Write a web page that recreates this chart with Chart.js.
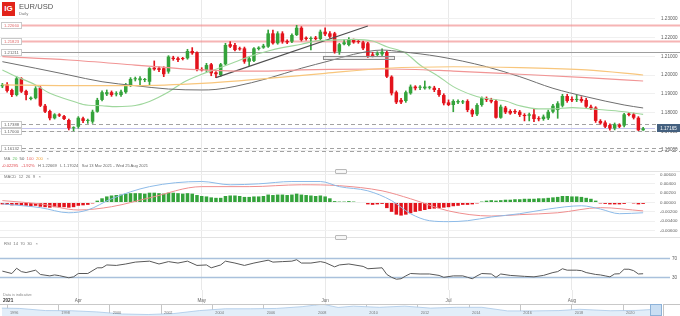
<!DOCTYPE html>
<html>
<head>
<meta charset="utf-8">
<script src="https://cdn.jsdelivr.net/npm/chart.js@4.4.1/dist/chart.umd.min.js"></script>
<style>
html,body{margin:0;padding:0;background:#fff;}
#wrap{position:relative;width:680px;height:316px;overflow:hidden;font-family:"Liberation Sans",Arial,sans-serif;background:#fff;}
#wrap canvas{position:absolute;left:0;}
.t{position:absolute;white-space:nowrap;line-height:1;}
.sep{position:absolute;left:0;width:680px;height:1px;background:#e2e2e2;}
.hdl{position:absolute;left:335px;width:10px;height:3px;border:1px solid #b9b9b9;border-radius:1px;background:#f6f6f6;}
</style>
</head>
<body>
<div id="wrap">
  <canvas id="cMain" width="680" height="171" style="top:0px"></canvas>
  <canvas id="cMacd" width="680" height="66" style="top:171px"></canvas>
  <canvas id="cRsi" width="680" height="68" style="top:237px"></canvas>
  <canvas id="cNav" width="650" height="12" style="top:304px"></canvas>

  <div class="sep" style="top:171px"></div>
  <div class="sep" style="top:237px"></div>
  <div class="hdl" style="top:169px"></div>
  <div class="hdl" style="top:235px"></div>

  <div class="t" style="left:2px;top:2px;width:13px;height:14px;background:#e2231a;color:#fff;font-weight:bold;font-size:8px;line-height:14px;text-align:center;">IG</div>
  <div class="t" style="left:19px;top:3px;font-size:7.6px;color:#555;">EUR/USD</div>
  <div class="t" style="left:19px;top:12px;font-size:4.2px;color:#777;">Daily</div>

  <div class="t" style="left:4px;top:157px;font-size:4.2px;color:#777;">MA&nbsp;&nbsp;<span style="color:#5fbf5f">20</span>&nbsp;&nbsp;<span style="color:#555">50</span>&nbsp;&nbsp;<span style="color:#e76b6b">100</span>&nbsp;&nbsp;<span style="color:#f0a640">200</span>&nbsp;&nbsp;&nbsp;<span style="color:#999">×</span></div>
  <div class="t" style="left:2px;top:164px;font-size:4.1px;color:#666;"><span style="color:#e0474c">-0.02295</span>&nbsp;&nbsp;&nbsp;<span style="color:#e0474c">-1.92%</span>&nbsp;&nbsp;&nbsp;H 1.22669&nbsp;&nbsp;&nbsp;L 1.17024&nbsp;&nbsp;&nbsp;Sat 13 Mar 2021 - Wed 25 Aug 2021</div>
  <div class="t" style="left:4px;top:175px;font-size:4.2px;color:#777;">MACD&nbsp;&nbsp;12&nbsp;&nbsp;26&nbsp;&nbsp;9&nbsp;&nbsp;&nbsp;×</div>
  <div class="t" style="left:4px;top:242px;font-size:4.2px;color:#777;">RSI&nbsp;&nbsp;14&nbsp;&nbsp;70&nbsp;&nbsp;30&nbsp;&nbsp;&nbsp;×</div>

  <div class="t" style="left:650px;top:304px;width:10px;height:10px;background:#c9def3;border:1px solid #8db2d8;"></div>
  <div class="t" style="left:663px;top:304px;width:16px;height:11px;border:1px solid #c4c4c4;background:#fff;"></div>
</div>
<script>
// ---------------- DATA ----------------
const startDate = '2021-03-14';   // first candle (IG daily FX incl. Sunday candles)
const slotCount = 138;            // candles + empty slots at right
const monthNames = ['Jan','Feb','Mar','Apr','May','Jun','Jul','Aug','Sep','Oct','Nov','Dec'];

const opens  = [1.1941,1.1951,1.1921,1.1894,1.1983,1.1916,1.1873,1.1877,1.1933,1.1837,
1.1809,1.1770,1.1791,1.1782,1.1761,1.1717,1.1725,1.1770,1.1756,1.1752,
1.1805,1.1868,1.1898,1.1909,1.1898,1.1894,1.1909,1.1944,1.1978,1.1973,
1.1974,1.1965,1.2040,1.2037,1.2037,1.2019,1.2093,1.2090,1.2090,1.2090,
1.2129,1.2122,1.2033,1.2028,1.2058,1.2015,1.2001,1.2058,1.2165,1.2161,
1.2143,1.2143,1.2072,1.2076,1.2140,1.2147,1.2152,1.2223,1.2170,1.2223,
1.2182,1.2179,1.2214,1.2253,1.2200,1.2193,1.2200,1.2193,1.2232,1.2223,
1.2223,1.2125,1.2165,1.2161,1.2188,1.2179,1.2175,1.2170,1.2111,1.2108,
1.2111,1.2122,1.1992,1.1909,1.1868,1.1862,1.1903,1.1939,1.1933,1.1930,
1.1933,1.1933,1.1921,1.1894,1.1855,1.1841,1.1855,1.1855,1.1862,1.1814,
1.1791,1.1841,1.1877,1.1868,1.1862,1.1773,1.1827,1.1809,1.1809,1.1805,
1.1788,1.1784,1.1791,1.1770,1.1766,1.1770,1.1805,1.1814,1.1837,1.1889,
1.1873,1.1868,1.1873,1.1868,1.1832,1.1827,1.1756,1.1748,1.1734,1.1716,
1.1734,1.1731,1.1795,1.1791,1.1773,1.1706];
const highs  = [1.1956,1.1960,1.1926,1.1992,1.1987,1.1921,1.1885,1.1939,1.1939,1.1844,
1.1814,1.1795,1.1795,1.1786,1.1766,1.1725,1.1779,1.1777,1.1766,1.1814,
1.1877,1.1916,1.1921,1.1916,1.1912,1.1921,1.1956,1.1987,1.1990,1.1992,
1.1983,1.2040,1.2076,1.2045,1.2045,1.2104,1.2101,1.2097,1.2095,1.2138,
1.2147,1.2125,1.2040,1.2063,1.2063,1.2019,1.2063,1.2170,1.2179,1.2170,
1.2150,1.2150,1.2099,1.2147,1.2152,1.2165,1.2241,1.2241,1.2232,1.2232,
1.2189,1.2221,1.2266,1.2259,1.2205,1.2204,1.2207,1.2241,1.2253,1.2232,
1.2229,1.2170,1.2188,1.2200,1.2193,1.2188,1.2182,1.2175,1.2122,1.2125,
1.2140,1.2129,1.1997,1.1916,1.1877,1.1916,1.1948,1.1944,1.1944,1.1969,
1.1941,1.1941,1.1930,1.1901,1.1868,1.1869,1.1868,1.1866,1.1869,1.1820,
1.1848,1.1884,1.1884,1.1877,1.1869,1.1841,1.1834,1.1816,1.1816,1.1812,
1.1795,1.1798,1.1823,1.1779,1.1788,1.1814,1.1844,1.1859,1.1898,1.1898,
1.1884,1.1894,1.1885,1.1877,1.1841,1.1832,1.1763,1.1756,1.1741,1.1745,
1.1741,1.1796,1.1802,1.1798,1.1779,1.1722];
const lows   = [1.1933,1.1909,1.1885,1.1889,1.1907,1.1868,1.1868,1.1873,1.1832,1.1800,
1.1761,1.1766,1.1779,1.1762,1.1708,1.1703,1.1717,1.1746,1.1743,1.1743,
1.1802,1.1862,1.1891,1.1887,1.1889,1.1887,1.1903,1.1939,1.1969,1.1944,
1.1965,1.1944,1.2026,1.2019,1.1992,1.2010,1.2079,1.2072,1.2081,1.2085,
1.2111,1.2022,1.2022,1.2019,1.1997,1.1987,1.1994,1.2054,1.2147,1.2129,
1.2133,1.2063,1.2051,1.2072,1.2134,1.2143,1.2148,1.2165,1.2165,1.2170,
1.2168,1.2173,1.2211,1.2182,1.2186,1.2134,1.2188,1.2188,1.2211,1.2197,
1.2117,1.2111,1.2161,1.2156,1.2170,1.2170,1.2136,1.2093,1.2097,1.2099,
1.2104,1.1987,1.1894,1.1848,1.1848,1.1855,1.1898,1.1921,1.1923,1.1925,
1.1926,1.1912,1.1887,1.1841,1.1837,1.1805,1.1848,1.1848,1.1805,1.1779,
1.1784,1.1834,1.1859,1.1852,1.1770,1.1770,1.1795,1.1791,1.1795,1.1779,
1.1756,1.1756,1.1752,1.1756,1.1759,1.1763,1.1798,1.1770,1.1830,1.1855,
1.1859,1.1859,1.1855,1.1827,1.1816,1.1748,1.1738,1.1720,1.1706,1.1708,
1.1720,1.1724,1.1782,1.1766,1.1704,1.1705];
const closes = [1.1948,1.1916,1.1894,1.1983,1.1912,1.1894,1.1880,1.1930,1.1837,1.1805,
1.1770,1.1791,1.1784,1.1766,1.1717,1.1720,1.1773,1.1756,1.1757,1.1805,
1.1868,1.1909,1.1909,1.1894,1.1900,1.1912,1.1948,1.1980,1.1981,1.1983,
1.1976,1.2037,1.2031,1.2028,1.2005,1.2099,1.2086,1.2081,1.2086,1.2129,
1.2117,1.2028,1.2026,1.2054,1.2010,1.2005,1.2058,1.2161,1.2152,1.2134,
1.2138,1.2072,1.2090,1.2143,1.2147,1.2157,1.2223,1.2170,1.2223,1.2179,
1.2175,1.2214,1.2253,1.2188,1.2193,1.2197,1.2193,1.2232,1.2218,1.2205,
1.2125,1.2165,1.2175,1.2193,1.2175,1.2177,1.2143,1.2099,1.2102,1.2117,
1.2125,1.1992,1.1903,1.1855,1.1855,1.1909,1.1939,1.1930,1.1935,1.1939,
1.1934,1.1921,1.1894,1.1850,1.1841,1.1862,1.1862,1.1857,1.1814,1.1791,
1.1841,1.1877,1.1868,1.1859,1.1773,1.1832,1.1802,1.1796,1.1802,1.1788,
1.1782,1.1791,1.1766,1.1765,1.1779,1.1805,1.1837,1.1850,1.1889,1.1862,
1.1866,1.1869,1.1862,1.1832,1.1823,1.1756,1.1743,1.1725,1.1716,1.1738,
1.1725,1.1791,1.1788,1.1773,1.1706,1.1716];

// moving averages as [candle index, value]
const ma20Pts  = [[0,1.2028],[3,1.1992],[7,1.1948],[10,1.1903],[14,1.1868],[17,1.1844],[21,1.1837],[24,1.1832],[28,1.1838],[31,1.1860],[35,1.1910],[38,1.1960],[42,1.2005],[45,1.2032],[49,1.2070],[52,1.2099],[56,1.2129],[59,1.2147],[63,1.2165],[66,1.2182],[71,1.2188],[74,1.2191],[78,1.2182],[81,1.2152],[85,1.2117],[88,1.2054],[92,1.1992],[95,1.1939],[99,1.1894],[101,1.1880],[106,1.1862],[109,1.1837],[113,1.1820],[116,1.1820],[120,1.1827],[123,1.1823],[127,1.1814],[131,1.1805],[135,1.1791]];
const ma50Pts  = [[0,1.2072],[7,1.2037],[14,1.2001],[21,1.1965],[28,1.1944],[35,1.1926],[42,1.1921],[45,1.1924],[49,1.1940],[56,1.1983],[63,1.2037],[69,1.2077],[74,1.2111],[80,1.2134],[84,1.2125],[92,1.2099],[102,1.2045],[109,1.1992],[116,1.1930],[123,1.1885],[131,1.1841],[135,1.1825]];
const ma100Pts = [[0,1.2099],[14,1.2081],[28,1.2054],[35,1.2040],[42,1.2028],[49,1.2022],[56,1.2022],[63,1.2028],[69,1.2031],[81,1.2033],[95,1.2022],[109,1.2005],[123,1.1987],[135,1.1969]];
const ma200Pts = [[0,1.1948],[14,1.1944],[28,1.1944],[42,1.1956],[56,1.1983],[68,1.2010],[81,1.2037],[95,1.2045],[109,1.2040],[123,1.2028],[135,1.2001]];
const trendPts = [[45,1.1987],[77,1.2262]];

const levelValues = [1.22660,1.21823,1.21211,1.17388,1.17000,1.16132,1.15970];
const levelLabels = ['1.22660','1.21823','1.21211','1.17388','1.17000','1.16132',''];
const levelKinds  = ['red','red','grey','dash','dash','dash','dash'];
const lastPrice = 1.17165;
const zoneTop = 1.2104, zoneBottom = 1.2086, zoneFrom = 68, zoneTo = 82;
const priceTicks = [1.16,1.17,1.18,1.19,1.20,1.21,1.22,1.23];

const macdHist = [-0.0004,-0.0005,-0.0006,-0.0005,-0.0006,-0.0007,-0.0008,-0.0007,-0.0009,-0.0010,
-0.0011,-0.0010,-0.0010,-0.0010,-0.0011,-0.0010,-0.0007,-0.0006,-0.0005,-0.0002,
0.0004,0.0009,0.0013,0.0015,0.0016,0.0017,0.0019,0.0020,0.0020,0.0020,
0.0019,0.0021,0.0021,0.0020,0.0019,0.0021,0.0021,0.0020,0.0019,0.0020,
0.0019,0.0016,0.0014,0.0013,0.0011,0.0010,0.0010,0.0014,0.0015,0.0015,
0.0014,0.0012,0.0012,0.0013,0.0013,0.0014,0.0017,0.0016,0.0017,0.0017,
0.0016,0.0017,0.0019,0.0017,0.0016,0.0015,0.0014,0.0015,0.0013,0.0009,
0.0003,0.0002,0.0002,0.0003,0.0002,0.0001,-0.0001,-0.0004,-0.0005,-0.0004,
-0.0003,-0.0012,-0.0020,-0.0026,-0.0028,-0.0026,-0.0023,-0.0020,-0.0018,-0.0016,
-0.0014,-0.0013,-0.0012,-0.0011,-0.0010,-0.0008,-0.0007,-0.0005,-0.0005,-0.0004,
-0.0002,0.0002,0.0004,0.0005,0.0004,0.0005,0.0006,0.0006,0.0007,0.0007,
0.0008,0.0008,0.0008,0.0009,0.0009,0.0010,0.0011,0.0012,0.0014,0.0014,
0.0013,0.0013,0.0012,0.0010,0.0008,0.0004,-0.0002,-0.0003,-0.0004,-0.0004,
-0.0004,-0.0003,0.0001,-0.0002,-0.0004,-0.0003];
const macdPts   = [[0,-0.0003],[8,-0.0011],[14,-0.0022],[18,-0.0016],[23,0.0008],[31,0.0034],[42,0.0045],[48,0.0038],[54,0.0040],[61,0.0045],[67,0.0045],[71,0.0034],[77,0.0025],[82,0.0004],[86,-0.0024],[90,-0.0039],[94,-0.0041],[98,-0.0039],[103,-0.0031],[109,-0.0024],[115,-0.0014],[122,-0.0007],[126,-0.0014],[130,-0.0024],[135,-0.0022]];
const signalPts = [[0,0.0004],[8,-0.0003],[16,-0.0016],[23,-0.0009],[31,0.0010],[42,0.0034],[52,0.0034],[63,0.0038],[71,0.0036],[80,0.0025],[86,0.0008],[94,-0.0018],[103,-0.0029],[109,-0.0026],[117,-0.0022],[126,-0.0011],[135,-0.0018]];
const macdTicks = [-0.006,-0.004,-0.002,0,0.002,0.004,0.006];

const rsiPts = [[0,43],[2,38],[3,49],[4,42],[5,40],[7,45],[8,36],[10,33],[11,35],[12,33.5],[14,29],[15,31],[16,38],[18,38],[20,50],[21,50],[22,56],[24,55],[26,58],[28,62],[31,64],[33,58],[35,63],[37,60],[39,64],[41,55],[43,56],[44,50],[46,56],[47,64],[49,60],[51,55],[53,60],[56,66],[57,62],[59,63],[61,64],[62,67],[63,60],[65,60],[67,63],[68,61],[70,52],[71,56],[73,58],[76,53],[77,48],[80,50],[81,36],[82,30],[83,26],[84,27],[85,33],[86,38],[88,37],[90,37],[92,34],[93,30],[95,33],[97,33],[98,30],[99,27],[100,33],[101,38],[103,37],[104,30],[105,37],[107,34],[110,32],[112,31],[114,34],[116,40],[117,42],[118,48],[119,45],[121,45],[122,44],[123,40],[124,38],[125,36],[126,35],[127,33],[128,31],[129,37],[130,37.5],[131,47],[132,47],[133,44],[134,37],[135,37.5]];
const rsiLevels = [30,70];

const navPts = [[1995.8,1.28],[1996.5,1.26],[1997.5,1.13],[1998.5,1.12],[1999.5,1.05],[2000.5,0.92],[2001.5,0.89],[2002.5,0.95],[2003.5,1.13],[2004.5,1.24],[2005.5,1.24],[2006.5,1.26],[2007.5,1.37],[2008.3,1.52],[2008.9,1.32],[2009.5,1.40],[2010.5,1.33],[2011.5,1.40],[2012.5,1.28],[2013.5,1.33],[2014.5,1.33],[2015.5,1.11],[2016.5,1.11],[2017.5,1.13],[2018.3,1.21],[2019.5,1.12],[2020.5,1.14],[2021.05,1.19]];
const navYears = [1996,1998,2000,2002,2004,2006,2008,2010,2012,2014,2016,2018,2020];

// ---------------- BUILD ----------------
const GREEN = '#34a33b', RED = '#e3131c';
const FONT = "'Liberation Sans', Arial, sans-serif";
Chart.defaults.font.family = FONT;

const labels = [];
{ let d = new Date(startDate + 'T00:00:00Z');
  while (labels.length < slotCount) { if (d.getUTCDay() !== 6) labels.push(d.toISOString().slice(0,10)); d.setUTCDate(d.getUTCDate()+1); } }
const monthStarts = [];
for (let i = 1; i < labels.length; i++) if (labels[i].slice(5,7) !== labels[i-1].slice(5,7)) monthStarts.push(i);
const monthSet = new Set(monthStarts);

function sparse(pts){ const a = new Array(slotCount).fill(null); pts.forEach(([i,v]) => a[i] = v); return a; }
function pad(arr){ const a = arr.slice(); while (a.length < slotCount) a.push(null); return a; }

const candleColors = closes.map((c,i) => c >= opens[i] ? GREEN : RED);

function noPad(s){ s.paddingTop = 0; s.paddingBottom = 0; s.paddingLeft = 0; s.paddingRight = 0; }

function xScale(){
  return { type:'category', offset:true,
    ticks:{display:false, autoSkip:false},
    grid:{offset:false, drawTicks:false, lineWidth:1, color: c => monthSet.has(c.index) ? '#e9e9e9' : 'rgba(0,0,0,0)'},
    border:{display:false},
    afterFit(s){ s.height = 0; noPad(s); } };
}
const baseOpts = { responsive:false, animation:false, events:[], devicePixelRatio:1,
  plugins:{legend:{display:false}, tooltip:{enabled:false}} };

function lineDs(pts, color, w){
  return {type:'line', data:sparse(pts), borderColor:color, borderWidth:w||1, pointRadius:0, spanGaps:true, cubicInterpolationMode:'monotone', order:0};
}

// main panel decorations
const mainDecor = {
  id:'mainDecor',
  beforeDatasetsDraw(chart){
    const {ctx, chartArea:a, scales:{y}} = chart;
    ctx.save();
    levelValues.forEach((v,k) => {
      const py = Math.round(y.getPixelForValue(v)) + 0.5;
      const kind = levelKinds[k];
      ctx.beginPath();
      if (kind === 'red'){ ctx.strokeStyle = 'rgba(240,130,130,0.6)'; ctx.lineWidth = 2; ctx.setLineDash([]); }
      else if (kind === 'grey'){ ctx.strokeStyle = '#9d9d9d'; ctx.lineWidth = 1.2; ctx.setLineDash([]); }
      else { ctx.strokeStyle = '#a2a2a2'; ctx.lineWidth = 1; ctx.setLineDash([4,3]); }
      ctx.moveTo(levelLabels[k] ? 22 : 0, py); ctx.lineTo(chart.width, py); ctx.stroke();
    });
    ctx.setLineDash([]);
    const cy = Math.round(y.getPixelForValue(lastPrice)) + 0.5;
    ctx.strokeStyle = '#c4c4ec'; ctx.lineWidth = 1;
    ctx.beginPath(); ctx.moveTo(0, cy); ctx.lineTo(a.right, cy); ctx.stroke();
    ctx.restore();
  },
  afterDatasetsDraw(chart){
    const {ctx, scales:{x, y}} = chart;
    const w = x.getPixelForValue(1) - x.getPixelForValue(0);
    const x0 = x.getPixelForValue(zoneFrom) - w/2, x1 = x.getPixelForValue(zoneTo) + w/2;
    const y0 = y.getPixelForValue(zoneTop), y1 = y.getPixelForValue(zoneBottom);
    ctx.save();
    ctx.fillStyle = 'rgba(200,200,200,0.35)';
    ctx.fillRect(x0, y0, x1-x0, y1-y0);
    ctx.strokeStyle = '#8d8d8d'; ctx.lineWidth = 1;
    ctx.strokeRect(Math.round(x0)+0.5, Math.round(y0)+0.5, Math.round(x1-x0), Math.round(y1-y0));
    ctx.restore();
  },
  afterDraw(chart){
    const {ctx, scales:{y}} = chart;
    ctx.save();
    ctx.font = '4.2px ' + FONT; ctx.textAlign = 'center'; ctx.textBaseline = 'middle';
    levelValues.forEach((v,k) => {
      if (!levelLabels[k]) return;
      const py = Math.round(y.getPixelForValue(v));
      ctx.fillStyle = '#fff'; ctx.fillRect(1, py-3, 20, 6);
      ctx.strokeStyle = '#c9c9c9'; ctx.lineWidth = 1; ctx.strokeRect(1.5, py-2.5, 20, 6);
      ctx.fillStyle = levelKinds[k] === 'red' ? '#e36a6a' : '#666';
      ctx.fillText(levelLabels[k], 11.5, py+0.5);
    });
    const cy = Math.round(y.getPixelForValue(lastPrice));
    ctx.fillStyle = '#44607f'; ctx.fillRect(657, cy-4, 23, 8);
    ctx.fillStyle = '#fff'; ctx.font = '4.6px ' + FONT;
    ctx.fillText(lastPrice.toFixed(5), 668.5, cy+0.5);
    ctx.restore();
  }
};

new Chart(document.getElementById('cMain'), {
  type:'bar',
  data:{ labels, datasets:[
    lineDs(ma200Pts, '#f8c67c', 1.2),
    lineDs(ma100Pts, '#f19595', 1.2),
    lineDs(ma50Pts, '#6f6f6f', 1),
    lineDs(ma20Pts, '#9fd79d', 1.1),
    {type:'line', data:sparse(trendPts), borderColor:'#4f4f4f', borderWidth:1.2, pointRadius:0, spanGaps:true, order:0},
    {type:'bar', data:pad(lows.map((l,i) => [l, highs[i]])), backgroundColor:candleColors, barThickness:1, grouped:false, order:2},
    {type:'bar', data:pad(opens.map((o,i) => [o, closes[i]])), backgroundColor:candleColors, barPercentage:0.74, categoryPercentage:1, minBarLength:1, grouped:false, order:1}
  ]},
  options:{ ...baseOpts,
    layout:{padding:0, autoPadding:false},
    scales:{
      x: xScale(),
      y: { position:'right', min:1.14889, max:1.24009,
        afterFit(s){ s.width = 25; noPad(s); },
        afterBuildTicks(s){ s.ticks = priceTicks.map(v => ({value:v})); },
        ticks:{ font:{size:4.6}, color:'#5c5c5c', padding:6, callback: v => Number(v).toFixed(5) },
        grid:{ color:'#f0f0f0', drawTicks:false }, border:{display:false} }
    }
  },
  plugins:[mainDecor]
});

new Chart(document.getElementById('cMacd'), {
  type:'bar',
  data:{ labels, datasets:[
    lineDs(macdPts, '#8dbbe8', 1),
    lineDs(signalPts, '#ef8e8e', 1),
    {type:'bar', data:pad(macdHist), backgroundColor:macdHist.map(v => v >= 0 ? GREEN : RED), barPercentage:0.74, categoryPercentage:1, order:1}
  ]},
  options:{ ...baseOpts,
    layout:{padding:0, autoPadding:false},
    scales:{
      x: xScale(),
      y: { position:'right', min:-0.00739, max:0.00675,
        afterFit(s){ s.width = 25; noPad(s); },
        afterBuildTicks(s){ s.ticks = macdTicks.map(v => ({value:v})); },
        ticks:{ font:{size:4.4}, color:'#5c5c5c', padding:5, callback: v => Number(v).toFixed(5) },
        grid:{ color:'#f0f0f0', drawTicks:false }, border:{display:false} }
    }
  }
});

const rsiDecor = {
  id:'rsiDecor',
  beforeDatasetsDraw(chart){
    const {ctx, scales:{y}} = chart;
    ctx.save();
    ctx.strokeStyle = '#a9c1dc'; ctx.lineWidth = 1.5;
    rsiLevels.forEach(v => { const py = Math.round(y.getPixelForValue(v)) + 0.5; ctx.beginPath(); ctx.moveTo(0, py); ctx.lineTo(670, py); ctx.stroke(); });
    ctx.restore();
  },
  afterDraw(chart){
    const {ctx, chartArea:a, scales:{x}} = chart;
    ctx.save();
    ctx.strokeStyle = '#e9e9e9'; ctx.lineWidth = 1;
    monthStarts.forEach(i => { const px = Math.round(x.getPixelForValue(i)) + 0.5; ctx.beginPath(); ctx.moveTo(px, a.bottom); ctx.lineTo(px, chart.height); ctx.stroke(); });
    ctx.fillStyle = '#8a8a8a'; ctx.font = '3.8px ' + FONT; ctx.textAlign = 'left'; ctx.textBaseline = 'middle';
    ctx.fillText('Data is indicative', 3, a.bottom + 4.5);
    ctx.fillStyle = '#333'; ctx.font = 'bold 4.6px ' + FONT;
    ctx.fillText(labels[0].slice(0,4), 3, a.bottom + 10.5);
    ctx.fillStyle = '#666'; ctx.font = '4.6px ' + FONT; ctx.textAlign = 'center';
    monthStarts.forEach(i => { ctx.fillText(monthNames[Number(labels[i].slice(5,7)) - 1], x.getPixelForValue(i), a.bottom + 10.5); });
    ctx.restore();
  }
};

new Chart(document.getElementById('cRsi'), {
  type:'line',
  data:{ labels, datasets:[
    {data:sparse(rsiPts), borderColor:'#585858', borderWidth:1, pointRadius:0, spanGaps:true, tension:0}
  ]},
  options:{ ...baseOpts,
    layout:{padding:{left:0, right:0, top:0, bottom:15}, autoPadding:false},
    scales:{
      x: xScale(),
      y: { position:'right', min:3.3, max:114.8,
        afterFit(s){ s.width = 25; noPad(s); },
        afterBuildTicks(s){ s.ticks = rsiLevels.map(v => ({value:v})); },
        ticks:{ font:{size:4.6}, color:'#5c5c5c', padding:17 },
        grid:{ display:false, drawTicks:false }, border:{display:false} }
    }
  },
  plugins:[rsiDecor]
});

const navDecor = {
  id:'navDecor',
  afterDraw(chart){
    const {ctx, scales:{x}} = chart;
    ctx.save();
    ctx.strokeStyle = '#c9c9c9'; ctx.lineWidth = 1;
    ctx.beginPath(); ctx.moveTo(0, 0.5); ctx.lineTo(chart.width, 0.5); ctx.stroke();
    ctx.fillStyle = '#777'; ctx.font = '3.8px ' + FONT; ctx.textAlign = 'left'; ctx.textBaseline = 'middle';
    navYears.forEach(yv => ctx.fillText(String(yv), x.getPixelForValue(yv) + 3, 8.5));
    ctx.restore();
  }
};

new Chart(document.getElementById('cNav'), {
  type:'line',
  data:{ datasets:[
    {data:navPts.map(([x,y]) => ({x, y})), borderColor:'#a9c8e7', borderWidth:0.8, backgroundColor:'#e2eef9', fill:'start', pointRadius:0, tension:0}
  ]},
  options:{ ...baseOpts,
    layout:{padding:0, autoPadding:false},
    scales:{
      x:{ type:'linear', min:1995.727, max:2021.05,
        afterBuildTicks(s){ s.ticks = navYears.map(v => ({value:v})); },
        ticks:{display:false}, grid:{color:'#c6c6c6', drawTicks:false}, border:{display:false},
        afterFit(s){ s.height = 0; noPad(s); } },
      y:{ display:false, min:0.80, max:1.531, afterFit(s){ noPad(s); } }
    }
  },
  plugins:[navDecor]
});
</script>
</body>
</html>
